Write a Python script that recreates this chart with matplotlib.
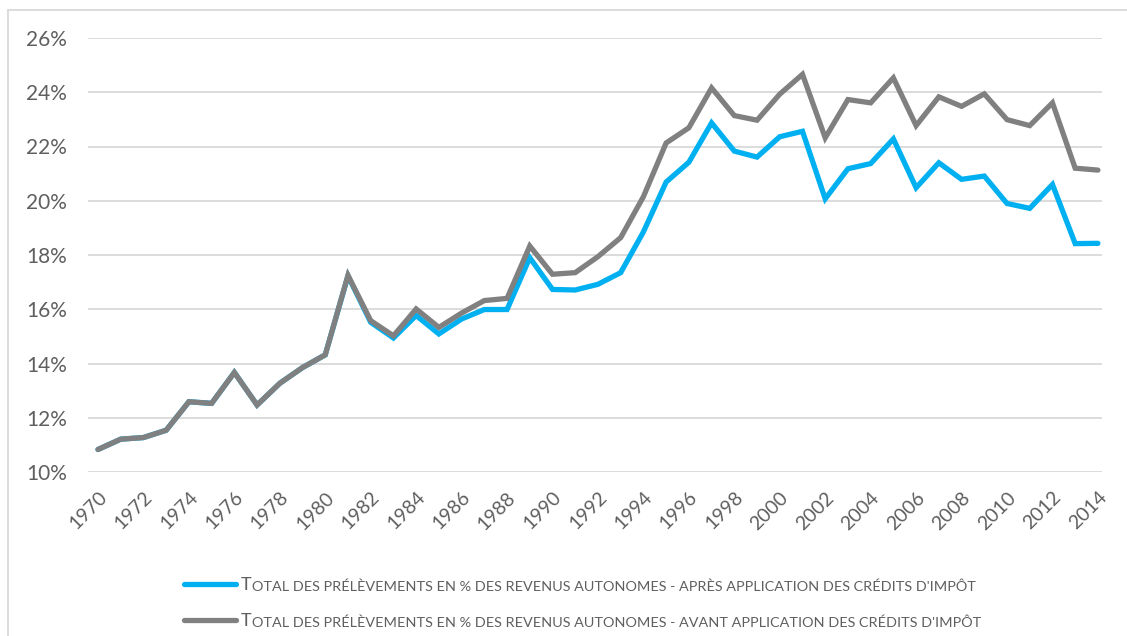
import numpy as np
import matplotlib.pyplot as plt
from matplotlib.patches import Rectangle
from matplotlib.ticker import FuncFormatter

plt.rcParams['font.family'] = ['Lato', 'DejaVu Sans']

years = list(range(1970, 2015))

# Avant application des crédits d'impôt (gris)
avant = [10.83, 11.21, 11.27, 11.54, 12.59, 12.53, 13.67, 12.47, 13.27, 13.85,
         14.32, 17.25, 15.58, 15.02, 16.01, 15.33, 15.86, 16.32, 16.40, 18.33,
         17.29, 17.35, 17.94, 18.64, 20.15, 22.13, 22.69, 24.16, 23.14, 22.97,
         23.93, 24.66, 22.32, 23.73, 23.61, 24.53, 22.77, 23.83, 23.48, 23.94,
         22.99, 22.77, 23.61, 21.20, 21.13]

# Après application des crédits d'impôt (bleu)
apres = [10.83, 11.21, 11.27, 11.54, 12.59, 12.53, 13.67, 12.47, 13.27, 13.85,
         14.32, 17.23, 15.52, 14.94, 15.77, 15.09, 15.64, 15.99, 15.99, 17.90,
         16.73, 16.71, 16.92, 17.35, 18.85, 20.69, 21.42, 22.87, 21.83, 21.61,
         22.36, 22.56, 20.07, 21.18, 21.37, 22.28, 20.48, 21.40, 20.79, 20.91,
         19.90, 19.72, 20.60, 18.42, 18.43]

label_rest = ["OTAL DES PRÉLÈVEMENTS EN % DES REVENUS AUTONOMES - APRÈS APPLICATION DES CRÉDITS D'IMPÔT",
              "OTAL DES PRÉLÈVEMENTS EN % DES REVENUS AUTONOMES - AVANT APPLICATION DES CRÉDITS D'IMPÔT"]

blue = '#00B0F0'
grey = '#808080'
txt = '#5f5f5f'

W, H = 1127, 636
fig = plt.figure(figsize=(W / 100, H / 100), dpi=100)
ax = fig.add_axes([88 / W, 1 - 472 / H, (1102 - 88) / W, (472 - 38) / H])

ax.plot(years, apres, color=blue, lw=3.8, solid_capstyle='round', solid_joinstyle='miter', zorder=3)
ax.plot(years, avant, color=grey, lw=3.8, solid_capstyle='round', solid_joinstyle='miter', zorder=4)

ax.set_ylim(10, 26)
ax.set_yticks(np.arange(10, 27, 2))
ax.yaxis.set_major_formatter(FuncFormatter(lambda v, p: f"{v:.0f}%"))
ax.set_xlim(1969.56, 2014.18)
ax.set_xticks(years[::2])
ax.set_xticklabels([str(y) for y in years[::2]], rotation=45, ha='right',
                   rotation_mode='anchor')
ax.grid(axis='y', color='#D9D9D9', lw=1.3)
ax.set_axisbelow(True)
for s in ax.spines.values():
    s.set_visible(False)
ax.tick_params(length=0, colors=txt, labelsize=15)
ax.tick_params(axis='x', labelsize=14, pad=12)
ax.tick_params(axis='y', pad=15)

# cadre
fig.patches.append(Rectangle((7.5 / W, -0.1), 1.2, 1 - 9.5 / H + 0.1, transform=fig.transFigure,
                             fill=False, edgecolor='#D9D9D9', lw=1.3))

# légende
for i, (c, rest) in enumerate(zip([blue, grey], label_rest)):
    yy = 1 - (584 + 36 * i) / H
    fig.add_artist(plt.Line2D([184 / W, 236 / W], [yy, yy], color=c, lw=3.8,
                              solid_capstyle='round', transform=fig.transFigure))
    t = fig.text(241 / W, yy - 6 / H, "T", fontsize=13, color=txt, va='baseline')
    ax.annotate(rest, xy=(1, 0), xycoords=t, fontsize=10.4, color=txt, va='bottom',
                annotation_clip=False)

fig.savefig('out.png', dpi=100)
